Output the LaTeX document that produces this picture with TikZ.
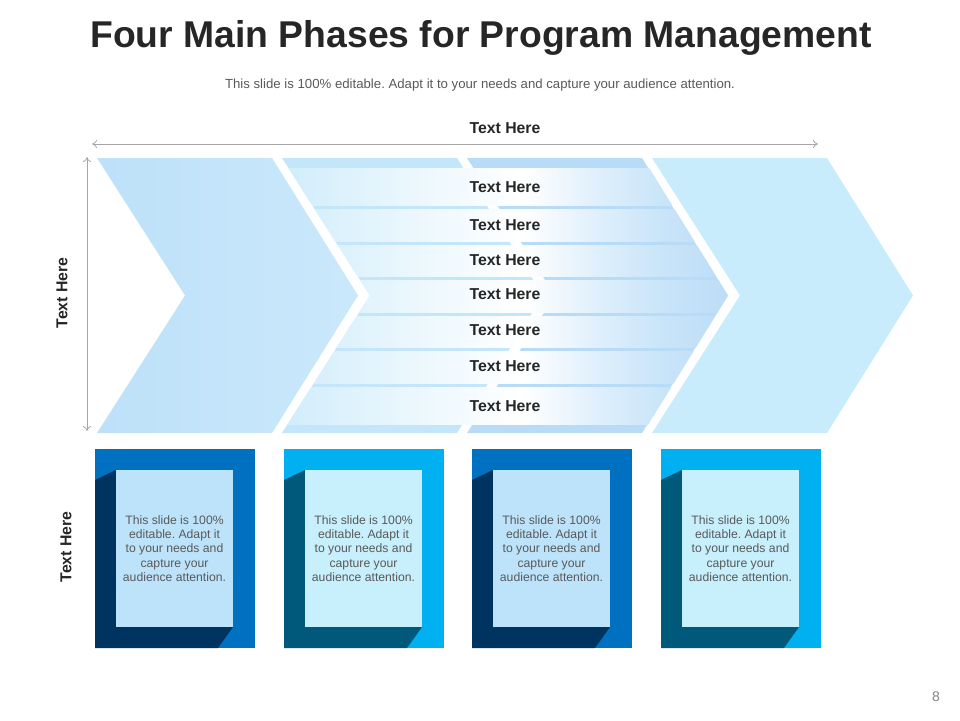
\documentclass[tikz,border=0pt]{standalone}
\usepackage{fontspec}
\setmainfont{Liberation Sans}
\usetikzlibrary{arrows.meta}
\frenchspacing
\definecolor{titlecol}{HTML}{262626}
\definecolor{subcol}{HTML}{595959}
\definecolor{dimcol}{HTML}{A6A6A6}
\definecolor{chevA}{HTML}{BDE1F9}
\definecolor{chevAr}{HTML}{CBE8FB}
\definecolor{chevB}{HTML}{C3E6FA}
\definecolor{chevC}{HTML}{B8DCF7}
\definecolor{chevD}{HTML}{C8ECFC}
\definecolor{rowA}{HTML}{D0EDFB}
\definecolor{rowB}{HTML}{E8F6FD}
\definecolor{rowC}{HTML}{E0F0FC}
\definecolor{rowD}{HTML}{C8E4F9}
\definecolor{rowE}{HTML}{BDDCF7}
\definecolor{boxBlue}{HTML}{0070C0}
\definecolor{boxBlueSh}{HTML}{003460}
\definecolor{boxBlueIn}{HTML}{BDE3FB}
\definecolor{boxCyan}{HTML}{00B0F0}
\definecolor{boxCyanSh}{HTML}{00587A}
\definecolor{boxCyanIn}{HTML}{C8EFFC}
\pgfdeclarehorizontalshading{rowshade}{100bp}{color(0bp)=(rowA); color(25bp)=(rowA); color(38bp)=(rowB); color(52bp)=(white); color(60bp)=(rowC); color(68bp)=(rowD); color(75bp)=(rowE); color(100bp)=(rowE)}
\newcommand\chevpath[1]{(#1,158) -- ({#1+175},158) -- ({#1+261},295.5) -- ({#1+175},433) -- (#1,433) -- ({#1+88},295.5) -- cycle}
\newcommand\phasebox[5]{%
  \fill[#3] (#2,449) rectangle ({#2+160},648);
  \fill[#4] (#2,480) -- ({#2+21},470) -- ({#2+21},627) -- ({#2+138},627) -- ({#2+123},648) -- (#2,648) -- cycle;
  \node[panel, fill=#5] (#1) at ({#2+79.5},548.5) {This slide is 100\%\\editable. Adapt it\\to your needs and\\capture your\\audience attention.};
}
\begin{document}
\begin{tikzpicture}[x=1pt,y=-1pt,
  titletxt/.style={font=\fontsize{37.3}{42}\selectfont\bfseries, text=titlecol, inner sep=0},
  subtxt/.style={font=\fontsize{13.2}{15}\selectfont, text=subcol, inner sep=0},
  rowtxt/.style={font=\fontsize{15.8}{18}\selectfont\bfseries, text=titlecol, inner sep=0},
  dimarrow/.style={draw=dimcol, line width=0.8pt, {To[length=5pt,width=8pt]}-{To[length=5pt,width=8pt]}},
  panel/.style={minimum width=117pt, minimum height=157pt, inner sep=0, align=center,
    font=\fontsize{12.2}{14.3}\selectfont, text=subcol},
]
\useasboundingbox (0,0) rectangle (960,720);
\node[titletxt] (title) at (481,38) {Four Main Phases for Program Management};
\node[subtxt] (sub) at (480,85) {This slide is 100\% editable. Adapt it to your needs and capture your audience attention.};

% chevrons
\shade[left color=chevA, right color=chevAr] \chevpath{97};
\fill[chevB] \chevpath{282};
\fill[chevC] \chevpath{467};
\fill[chevD] \chevpath{652};

% rows over middle chevrons
\begin{scope}
\clip (282,158) -- (643,158) -- (728,295.5) -- (643,433) -- (282,433) -- (370,295.5) -- cycle;
\foreach \ya/\yb in {168/205, 209/241, 245/276, 280/312, 316/347, 351/383, 387/424}{
  \shade[shading=rowshade] (282,\ya) rectangle (728,\yb);
}
\end{scope}

\node[rowtxt] (r1) at (505,187) {Text Here};
\node[rowtxt] (r2) at (505,225) {Text Here};
\node[rowtxt] (r3) at (505,260) {Text Here};
\node[rowtxt] (r4) at (505,294) {Text Here};
\node[rowtxt] (r5) at (505,330) {Text Here};
\node[rowtxt] (r6) at (505,366) {Text Here};
\node[rowtxt] (r7) at (505,406) {Text Here};

% dimension arrows
\coordinate (hl) at (92,144);
\coordinate (hr) at (818,144);
\draw[dimarrow] (hl) -- (hr);
\node[rowtxt] (toplab) at (505,128) {Text Here};
\coordinate (vt) at (87,157);
\coordinate (vb) at (87,431);
\draw[dimarrow] (vt) -- (vb);
\node[rowtxt, rotate=90] (leftlab) at (62,293) {Text Here};
\node[rowtxt, rotate=90] (leftlab2) at (66,547) {Text Here};

% bottom boxes
\phasebox{b1}{95}{boxBlue}{boxBlueSh}{boxBlueIn}
\phasebox{b2}{284}{boxCyan}{boxCyanSh}{boxCyanIn}
\phasebox{b3}{472}{boxBlue}{boxBlueSh}{boxBlueIn}
\phasebox{b4}{661}{boxCyan}{boxCyanSh}{boxCyanIn}

\node[subtxt, font=\fontsize{14}{16}\selectfont, text=dimcol!80!black] (pg) at (936,697) {8};
\end{tikzpicture}
\end{document}
